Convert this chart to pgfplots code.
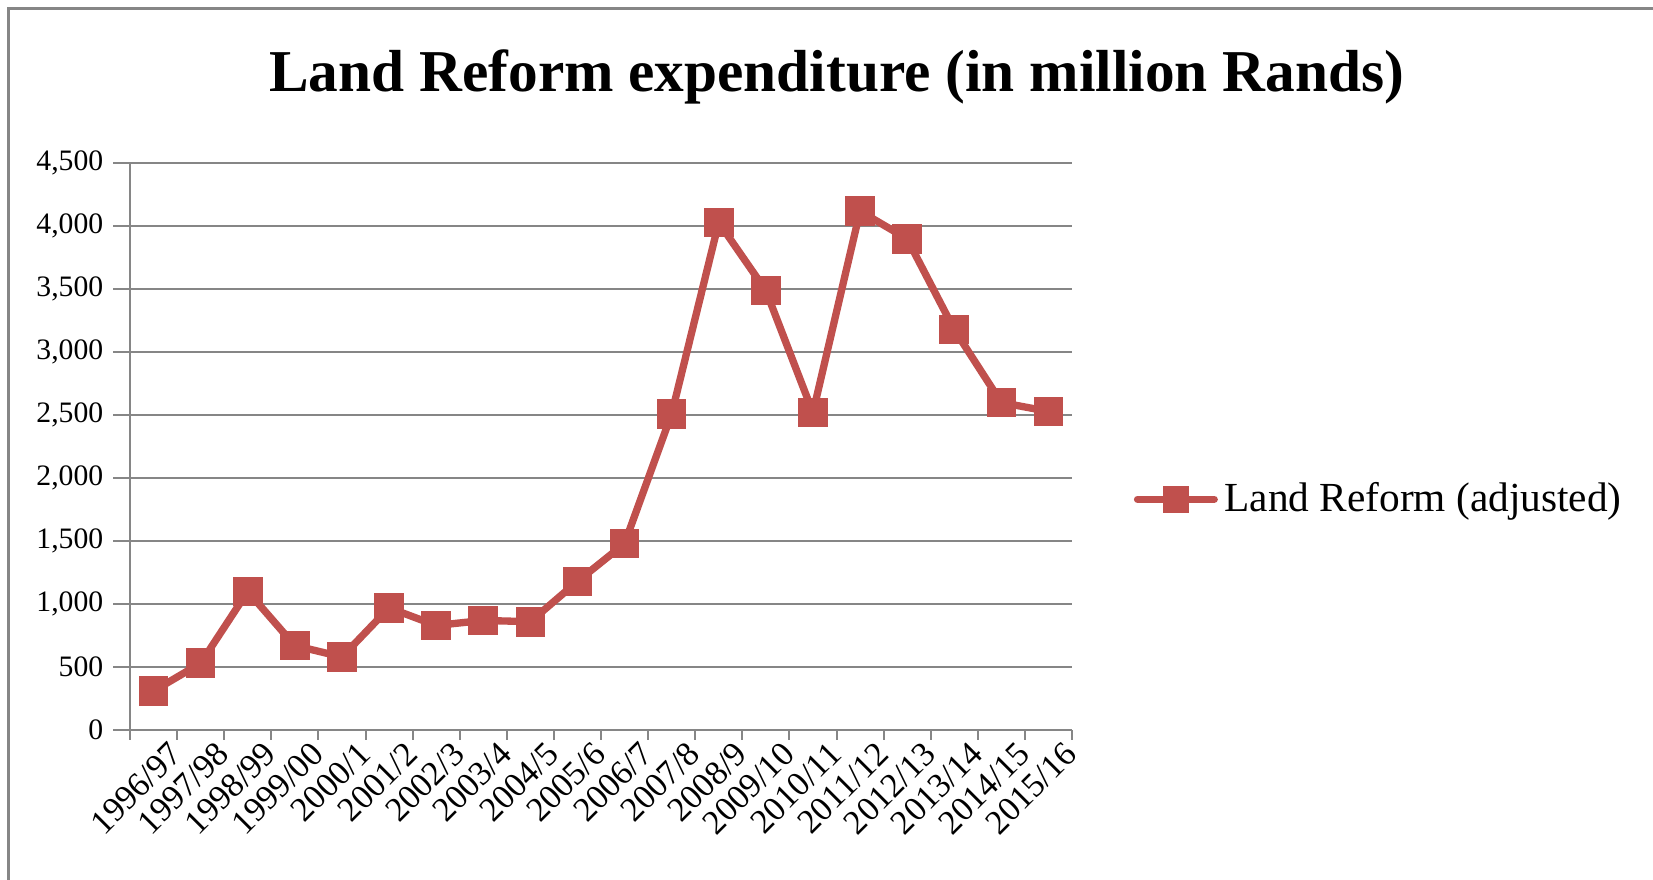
\documentclass[border=0pt]{standalone}
\usepackage{fontspec}
\setmainfont{Liberation Serif}
\usepackage{pgfplots}
\pgfplotsset{compat=1.18}
\definecolor{lrred}{HTML}{C0504D}
\definecolor{gridgray}{HTML}{868686}
\begin{document}
\begin{tikzpicture}[x=1pt,y=1pt]
\useasboundingbox (0,0) rectangle (495.9,264);
\draw[gridgray, line width=0.8pt] (2.5,-5) -- (2.5,261.5) -- (500,261.5);
\begin{axis}[
  at={(39pt,45pt)}, anchor=south west,
  width=282.6pt, height=170pt, scale only axis,
  xmin=-0.5, xmax=19.5,
  ymin=0, ymax=4500,
  ytick={0,500,...,4500},
  xtick={0,...,19},
  xticklabels={1996/97,1997/98,1998/99,1999/00,2000/1,2001/2,2002/3,2003/4,2004/5,2005/6,2006/7,2007/8,2008/9,2009/10,2010/11,2011/12,2012/13,2013/14,2014/15,2015/16},
  minor xtick={-0.5,0.5,...,19.5},
  major tick length=0pt,
  minor tick length=3pt,
  tick align=outside,
  axis lines*=left,
  axis line style={gridgray, line width=0.8pt},
  every tick/.style={gridgray, line width=0.6pt},
  ymajorgrids,
  major grid style={gridgray, line width=0.6pt},
  extra y ticks={0,500,...,4500}, extra y tick labels={},
  extra y tick style={major tick length=5pt, grid=none},
  /pgf/number format/assume math mode=true,
  /pgf/number format/1000 sep={,},
  ticklabel style={font=\fontsize{8.9}{9.5}\selectfont, text=black},
  xticklabel style={font=\fontsize{10.3}{11}\selectfont, rotate=45, anchor=north east, inner sep=1pt, yshift=-4pt, xshift=2pt},
  yticklabel style={xshift=-4.5pt},
  legend style={at={(1.065,0.407)}, anchor=west, draw=none, fill=none,
    font=\fontsize{12.4}{14}\selectfont, inner sep=0pt},
  legend image code/.code={
    \draw[lrred, line width=2.2pt, line cap=round] (0pt,0pt) -- (23pt,0pt);
    \node[fill=lrred, draw=none, minimum size=8pt, inner sep=0pt] at (11.5pt,0pt) {};
  },
  clip=false,
]
\addplot[lrred, line width=2.2pt, mark=square*, mark size=4.3pt,
  mark options={fill=lrred, draw=lrred, line width=0pt}]
  coordinates {
  (0,310) (1,530) (2,1100) (3,670) (4,580) (5,970) (6,830) (7,870)
  (8,860) (9,1180) (10,1480) (11,2510) (12,4030) (13,3490) (14,2520)
  (15,4120) (16,3900) (17,3180) (18,2600) (19,2530)
  };
\legend{Land Reform (adjusted)}
\end{axis}
\node[font=\bfseries\fontsize{17.8}{20}\selectfont] at (251,241) {Land Reform expenditure (in million Rands)};
\end{tikzpicture}
\end{document}
